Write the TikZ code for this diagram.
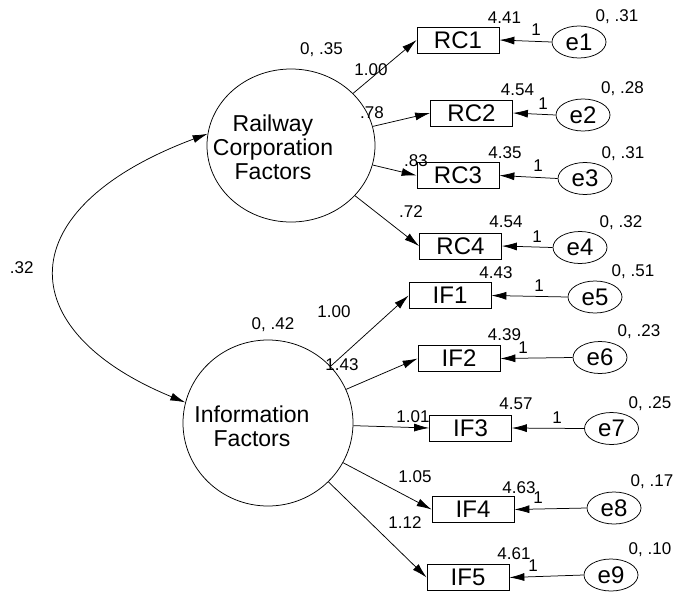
\documentclass[tikz,border=0pt]{standalone}
\usepackage{fontspec}
\setmainfont{Liberation Sans}
\usetikzlibrary{arrows.meta,shapes.geometric}
\begin{document}
\begin{tikzpicture}[x=1pt,y=-1pt,
  every node/.style={inner sep=0pt},
  lat/.style={draw,ellipse,line width=0.75pt},
  obs/.style={draw,rectangle,line width=0.75pt,minimum width=82pt,minimum height=26pt,font=\fontsize{24}{25}\selectfont},
  err/.style={draw,ellipse,line width=0.75pt,minimum width=54pt,minimum height=32pt,font=\fontsize{24}{25}\selectfont},
  big/.style={font=\fontsize{23}{24}\selectfont,align=center},
  lab/.style={font=\fontsize{17}{19}\selectfont,anchor=base},
  arr/.style={line width=0.75pt,-{Latex[length=15pt,width=8pt]}},
  cov/.style={line width=0.75pt,{Latex[length=15pt,width=8pt]}-{Latex[length=15pt,width=8pt]}}
]
\useasboundingbox (0,0) rectangle (675,598);
% latent variables
\node[lat,minimum width=168pt,minimum height=153pt] (rc) at (291,145.5) {};
\node[big] (rct) at (273,147) {Railway\\Corporation\\Factors};
\node[lat,minimum width=170pt,minimum height=166pt] (if) at (268,423) {};
\node[big] (ift) at (252,426) {Information\\Factors};
% observed
\node[obs] (rc1) at (458,40) {RC1};
\node[obs] (rc2) at (471.5,113) {RC2};
\node[obs] (rc3) at (458,175.5) {RC3};
\node[obs] (rc4) at (460.5,246) {RC4};
\node[obs] (if1) at (450,295.5) {IF1};
\node[obs] (if2) at (459,358.5) {IF2};
\node[obs] (if3) at (470.5,428) {IF3};
\node[obs] (if4) at (473,509.5) {IF4};
\node[obs] (if5) at (468,577.5) {IF5};
% errors
\node[err] (e1) at (579,42) {e1};
\node[err] (e2) at (583,115) {e2};
\node[err] (e3) at (585,178.5) {e3};
\node[err] (e4) at (580,247.5) {e4};
\node[err] (e5) at (595,297) {e5};
\node[err] (e6) at (600,357.5) {e6};
\node[err] (e7) at (611.5,428.5) {e7};
\node[err] (e8) at (614,508) {e8};
\node[err] (e9) at (611,575) {e9};
% loadings
\foreach \b in {rc1,rc2,rc3,rc4} \draw[arr] (rc) -- (\b.west);
\foreach \b in {if1,if2,if3,if4,if5} \draw[arr] (if) -- (\b.west);
\foreach \e/\b in {e1/rc1,e2/rc2,e3/rc3,e4/rc4,e5/if1,e6/if2,e7/if3,e8/if4,e9/if5} \draw[arr] (\e.west) -- (\b.east);
% covariance
\draw[cov] (rc.172) .. controls (9,208) and (9,330) .. (if.166);
% labels
\node[lab] (l1) at (321.5,54) {0, .35};
\node[lab] (l2) at (371,75) {1.00};
\node[lab] (l3) at (372,118) {.78};
\node[lab] (l4) at (504.5,23) {4.41};
\node[lab] (l5) at (536,35) {1};
\node[lab] (l6) at (617,21) {0, .31};
\node[lab] (l7) at (517.5,95) {4.54};
\node[lab] (l8) at (543,109) {1};
\node[lab] (l9) at (622.5,93) {0, .28};
\node[lab] (l10) at (416,166) {.83};
\node[lab] (l11) at (505,158) {4.35};
\node[lab] (l12) at (538,171) {1};
\node[lab] (l13) at (623,158) {0, .31};
\node[lab] (l14) at (411,217) {.72};
\node[lab] (l15) at (506,227) {4.54};
\node[lab] (l16) at (537,242) {1};
\node[lab] (l17) at (621,227) {0, .32};
\node[lab] (l18) at (496,278) {4.43};
\node[lab] (l19) at (539,291) {1};
\node[lab] (l20) at (633,276) {0, .51};
\node[lab] (l21) at (334,317) {1.00};
\node[lab] (l22) at (273,329) {0, .42};
\node[lab] (l23) at (342,370) {1.43};
\node[lab] (l24) at (504.5,340) {4.39};
\node[lab] (l25) at (523,353) {1};
\node[lab] (l26) at (639,336) {0, .23};
\node[lab] (l27) at (413,422) {1.01};
\node[lab] (l28) at (516,409) {4.57};
\node[lab] (l29) at (557,423) {1};
\node[lab] (l30) at (650,408) {0, .25};
\node[lab] (l31) at (415,482) {1.05};
\node[lab] (l32) at (519,493) {4.63};
\node[lab] (l33) at (538,503) {1};
\node[lab] (l34) at (652,486) {0, .17};
\node[lab] (l35) at (405,528) {1.12};
\node[lab] (l36) at (514,559) {4.61};
\node[lab] (l37) at (533,571) {1};
\node[lab] (l38) at (650,554) {0, .10};
\node[lab] (l39) at (21.7,273) {.32};
\end{tikzpicture}
\end{document}
